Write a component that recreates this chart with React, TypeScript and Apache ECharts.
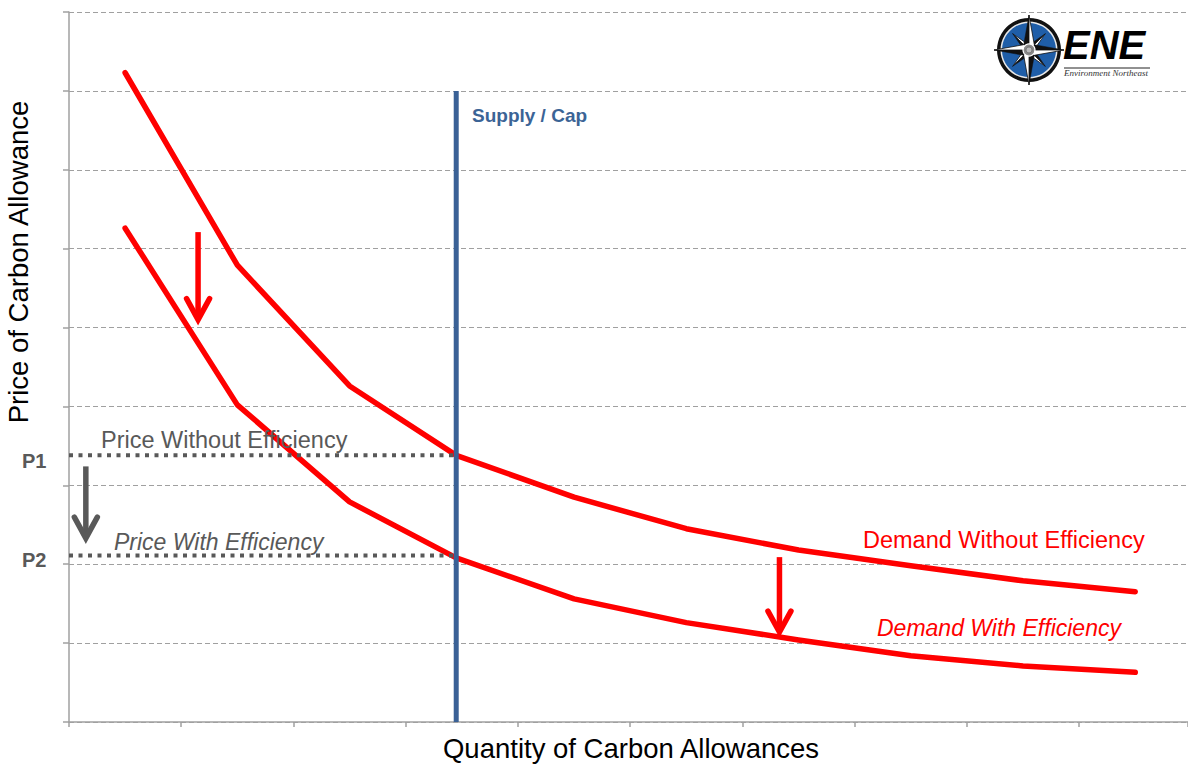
import React, { useEffect, useRef } from "react";
import * as echarts from "echarts";

// ---- data ----
const quantity = [0.5, 1.5, 2.5, 3.45, 4.5, 5.5, 6.5, 7.5, 8.5, 9.5];
const demandWithoutEfficiency = [8.23, 5.79, 4.26, 3.38, 2.85, 2.45, 2.18, 1.98, 1.79, 1.65];
const demandWithEfficiency = [6.26, 4.02, 2.79, 2.08, 1.56, 1.26, 1.04, 0.84, 0.71, 0.63];
const supplyCap = 3.45;
const supplyTop = 8;
const priceP1 = 3.38;
const priceP2 = 2.11;
// arrows: [x, yFrom, yTo]
const redArrows = [
  [1.15, 6.21, 5.1],
  [6.33, 2.09, 1.14],
];
const grayArrows = [[0.15, 3.24, 2.33]];

const FONT = "'Liberation Sans', Arial, sans-serif";
const RED = "#ff0000";
const GRAY = "#595959";
const BLUE = "#3a6196";

function arrowRenderer(color: string) {
  return (params: any, api: any) => {
    const x = api.value(0);
    const a = api.coord([x, api.value(1)]);
    const b = api.coord([x, api.value(2)]);
    return {
      type: "group",
      children: [
        {
          type: "line",
          shape: { x1: a[0], y1: a[1], x2: b[0], y2: b[1] - 2 },
          style: { stroke: color, lineWidth: 5.5, lineCap: "butt" },
        },
        {
          type: "polyline",
          shape: {
            points: [
              [b[0] - 11.5, b[1] - 21],
              [b[0], b[1]],
              [b[0] + 11.5, b[1] - 21],
            ],
          },
          style: { stroke: color, lineWidth: 5.5, fill: null, lineJoin: "miter", lineCap: "round" },
        },
      ],
    };
  };
}

function logoElements() {
  const cx = 1029;
  const cy = 50;
  const els: any[] = [];
  els.push({ type: "circle", shape: { cx, cy, r: 32 }, style: { fill: "#111" }, z: 10 });
  els.push({ type: "circle", shape: { cx, cy, r: 28.5 }, style: { fill: "#e8e8e8" }, z: 10 });
  els.push({ type: "circle", shape: { cx, cy, r: 27 }, style: { fill: "#1f5ea8" }, z: 10 });
  const ray = (theta: number, len: number, d: number) => {
    const tip = [cx + len * Math.cos(theta), cy + len * Math.sin(theta)];
    const sa = [cx + d * Math.cos(theta - Math.PI / 4), cy + d * Math.sin(theta - Math.PI / 4)];
    const sb = [cx + d * Math.cos(theta + Math.PI / 4), cy + d * Math.sin(theta + Math.PI / 4)];
    els.push({ type: "polygon", shape: { points: [tip, [cx, cy], sa] }, style: { fill: "#111", stroke: "#111", lineWidth: 0.5 }, z: 11 });
    els.push({ type: "polygon", shape: { points: [tip, [cx, cy], sb] }, style: { fill: "#fff", stroke: "#111", lineWidth: 0.8 }, z: 11 });
  };
  for (let k = 0; k < 4; k++) ray(Math.PI / 4 + (k * Math.PI) / 2, 23, 5);
  for (let k = 0; k < 4; k++) ray(-Math.PI / 2 + (k * Math.PI) / 2, 35, 7.5);
  els.push({ type: "circle", shape: { cx, cy, r: 6 }, style: { fill: "#888", stroke: "#fff", lineWidth: 1.2 }, z: 12 });
  els.push({ type: "circle", shape: { cx, cy, r: 3 }, style: { fill: "#bbb", stroke: "#555", lineWidth: 0.6 }, z: 12 });
  els.push({
    type: "text",
    x: 1063,
    y: 65,
    z: 12,
    style: { text: "ENE", font: `italic bold 40px ${FONT}`, fill: "#000", verticalAlign: "bottom" },
  });
  els.push({ type: "line", shape: { x1: 1064, y1: 68, x2: 1150, y2: 68 }, style: { stroke: "#222", lineWidth: 1 }, z: 12 });
  els.push({
    type: "text",
    x: 1064,
    y: 73,
    z: 12,
    style: { text: "Environment Northeast", font: "italic 9px 'Liberation Serif', 'Times New Roman', serif", fill: "#333", verticalAlign: "middle" },
  });
  return els;
}

function textEl(text: string, x: number, y: number, font: string, fill: string) {
  return {
    type: "text",
    x,
    y,
    z: 20,
    style: { text, font, fill, verticalAlign: "middle", align: "left" },
  };
}

export default function App() {
  const ref = useRef<HTMLDivElement>(null);

  useEffect(() => {
    document.body.style.margin = "0";
    if (!ref.current) return;
    const chart = echarts.init(ref.current, null, { renderer: "svg" });
    const withoutData = quantity.map((q, i) => [q, demandWithoutEfficiency[i]]);
    const withData = quantity.map((q, i) => [q, demandWithEfficiency[i]]);

    chart.setOption({
      animation: false,
      backgroundColor: "#fff",
      grid: { left: 69, right: 0, top: 12, bottom: 42 },
      xAxis: {
        type: "value",
        min: 0,
        max: 9.97,
        interval: 1,
        axisLine: { show: true, onZero: false, lineStyle: { color: "#a0a0a0", width: 1.5 } },
        axisTick: { show: true, length: 5, lineStyle: { color: "#a0a0a0", width: 1.5 } },
        axisLabel: { show: false },
        splitLine: { show: false },
      },
      yAxis: {
        type: "value",
        min: 0,
        max: 9,
        interval: 1,
        axisLine: { show: true, onZero: false, lineStyle: { color: "#a0a0a0", width: 1.5 } },
        axisTick: { show: true, length: 6, lineStyle: { color: "#a0a0a0", width: 1.5 } },
        axisLabel: { show: false },
        splitLine: { show: true, lineStyle: { color: "#a0a0a0", width: 1.2, type: [5, 3] } },
      },
      series: [
        {
          name: "Demand Without Efficiency",
          type: "line",
          data: withoutData,
          symbol: "none",
          z: 2,
          lineStyle: { color: RED, width: 5.5, cap: "round", join: "round" },
        },
        {
          name: "Demand With Efficiency",
          type: "line",
          data: withData,
          symbol: "none",
          z: 2,
          lineStyle: { color: RED, width: 5.5, cap: "round", join: "round" },
        },
        {
          name: "Supply / Cap",
          type: "line",
          data: [
            [supplyCap, 0],
            [supplyCap, supplyTop],
          ],
          symbol: "none",
          z: 3,
          lineStyle: { color: BLUE, width: 5, cap: "butt" },
        },
        {
          name: "P1",
          type: "line",
          data: [
            [0, priceP1],
            [supplyCap, priceP1],
          ],
          symbol: "none",
          z: 4,
          lineStyle: { color: GRAY, width: 4, type: [4, 5.5], cap: "butt" },
        },
        {
          name: "P2",
          type: "line",
          data: [
            [0, priceP2],
            [supplyCap, priceP2],
          ],
          symbol: "none",
          z: 4,
          lineStyle: { color: GRAY, width: 4, type: [4, 5.5], cap: "butt" },
        },
        {
          name: "shift",
          type: "custom",
          data: redArrows,
          encode: { x: 0, y: [1, 2] },
          z: 5,
          renderItem: arrowRenderer(RED),
        },
        {
          name: "price drop",
          type: "custom",
          data: grayArrows,
          encode: { x: 0, y: [1, 2] },
          z: 5,
          renderItem: arrowRenderer(GRAY),
        },
      ],
      graphic: [
        ...logoElements(),
        textEl("Supply / Cap", 472, 115, `bold 19px ${FONT}`, "#3b6496"),
        textEl("Price Without Efficiency", 101, 440, `23.5px ${FONT}`, GRAY),
        textEl("Price With Efficiency", 114, 542, `italic 23px ${FONT}`, GRAY),
        textEl("P1", 22, 461, `bold 20px ${FONT}`, GRAY),
        textEl("P2", 22, 560, `bold 20px ${FONT}`, GRAY),
        textEl("Demand Without Efficiency", 863, 540, `23.5px ${FONT}`, RED),
        textEl("Demand With Efficiency", 877, 628, `italic 23px ${FONT}`, RED),
        {
          type: "text",
          x: 631,
          y: 748,
          z: 20,
          style: { text: "Quantity of Carbon Allowances", font: `27.5px ${FONT}`, fill: "#000", align: "center", verticalAlign: "middle" },
        },
        {
          type: "text",
          x: 18,
          y: 262,
          rotation: Math.PI / 2,
          z: 20,
          style: { text: "Price of Carbon Allowance", font: `27.5px ${FONT}`, fill: "#000", align: "center", verticalAlign: "middle" },
        },
      ],
    });
    return () => chart.dispose();
  }, []);

  return <div ref={ref} style={{ width: 1188, height: 764 }} />;
}
